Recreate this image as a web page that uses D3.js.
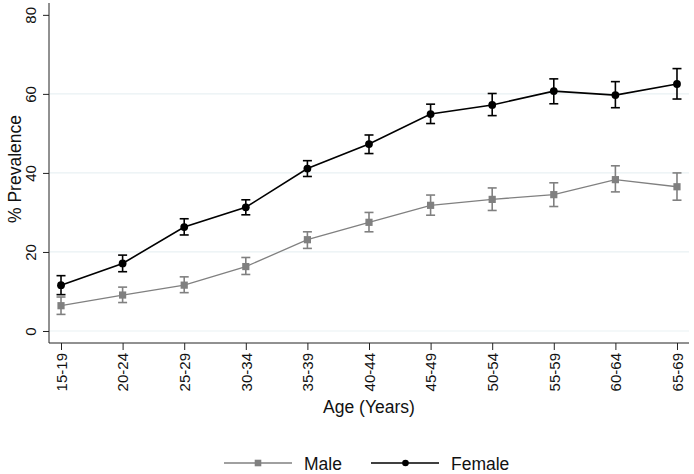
<!DOCTYPE html>
<html>
<head>
<meta charset="utf-8">
<script src="https://cdn.jsdelivr.net/npm/d3@7/dist/d3.min.js"></script>
<style>
  html, body { margin: 0; padding: 0; background: #fff; }
  svg { display: block; font-family: "Liberation Sans", Arial, Helvetica, sans-serif; }
</style>
</head>
<body>
<svg id="chart" width="694" height="474"></svg>
<script>
const ages = ["15-19","20-24","25-29","30-34","35-39","40-44","45-49","50-54","55-59","60-64","65-69"];
const femaleMean = [11.6, 17.1, 26.3, 31.3, 41.1, 47.3, 54.9, 57.2, 60.7, 59.7, 62.5];
const femaleLow  = [9.2, 15.0, 24.3, 29.4, 39.1, 44.9, 52.5, 54.5, 57.5, 56.5, 58.7];
const femaleHigh = [14.0, 19.2, 28.4, 33.2, 43.1, 49.6, 57.4, 60.1, 63.8, 63.1, 66.4];
const maleMean = [6.4, 9.1, 11.6, 16.3, 23.1, 27.5, 31.8, 33.3, 34.5, 38.3, 36.5];
const maleLow  = [4.2, 7.2, 9.7, 14.3, 20.9, 25.1, 29.3, 30.5, 31.5, 35.2, 33.1];
const maleHigh = [8.6, 11.1, 13.7, 18.6, 25.1, 30.0, 34.4, 36.2, 37.5, 41.8, 40.0];
const yTicks = [0, 20, 40, 60, 80];
const gridVals = [0, 20, 40, 60];
const seriesNames = ["Male", "Female"];

const svg = d3.select("#chart");
const mLeft = 49, mRight = 689, mTop = 3, mBottom = 343;

const x = d3.scalePoint().domain(ages).range([mLeft, mRight]).padding(0.195);
const y = d3.scaleLinear().domain([-3.04, 83.0]).range([mBottom, mTop]);

// grid
svg.append("g").selectAll("line").data(gridVals).join("line")
  .attr("x1", mLeft + 1).attr("x2", mRight)
  .attr("y1", d => y(d)).attr("y2", d => y(d))
  .attr("stroke", "#e9f1f3").attr("stroke-width", 1.2);

// y axis
const yAxis = svg.append("g").attr("transform", `translate(${mLeft},0)`)
  .call(d3.axisLeft(y).tickValues(yTicks).tickSize(6).tickSizeOuter(0).tickFormat(d3.format("d")));
yAxis.select(".domain").remove();
yAxis.selectAll(".tick line").attr("stroke", "#222");
yAxis.selectAll(".tick text").remove();
yAxis.selectAll(".tick").append("text")
  .attr("transform", "rotate(-90)")
  .attr("x", 0).attr("y", -13)
  .attr("text-anchor", "middle")
  .attr("fill", "#111")
  .attr("font-size", 15)
  .text(d => d);
svg.append("line").attr("x1", mLeft).attr("x2", mLeft).attr("y1", mTop).attr("y2", mBottom)
  .attr("stroke", "#222").attr("stroke-width", 1);

// x axis
const xAxis = svg.append("g").attr("transform", `translate(0,${mBottom})`)
  .call(d3.axisBottom(x).tickSize(7).tickSizeOuter(0));
xAxis.select(".domain").remove();
xAxis.selectAll(".tick line").attr("stroke", "#222");
xAxis.selectAll(".tick text")
  .attr("transform", "rotate(-90)")
  .attr("x", -10).attr("y", 0).attr("dy", "0.35em")
  .attr("text-anchor", "end")
  .attr("fill", "#111")
  .attr("font-size", 15);
svg.append("line").attr("x1", mLeft).attr("x2", mRight).attr("y1", mBottom).attr("y2", mBottom)
  .attr("stroke", "#222").attr("stroke-width", 1);

// titles
svg.append("text").attr("x", (mLeft + mRight) / 2).attr("y", 413)
  .attr("text-anchor", "middle").attr("font-size", 17.5).attr("fill", "#111")
  .text("Age (Years)");
svg.append("text").attr("transform", `translate(21,169) rotate(-90)`)
  .attr("text-anchor", "middle").attr("font-size", 17.5).attr("fill", "#111")
  .text("% Prevalence");

function drawSeries(mean, low, high, color, width, shape) {
  const g = svg.append("g");
  const line = d3.line().x((d, i) => x(ages[i])).y(d => y(d));
  g.append("path").datum(mean).attr("d", line)
    .attr("fill", "none").attr("stroke", color).attr("stroke-width", width);
  const eb = g.append("g").selectAll("g").data(ages).join("g");
  eb.append("line").attr("x1", d => x(d)).attr("x2", d => x(d))
    .attr("y1", (d, i) => y(low[i])).attr("y2", (d, i) => y(high[i]))
    .attr("stroke", color).attr("stroke-width", 1.6);
  eb.append("line").attr("x1", d => x(d) - 4.5).attr("x2", d => x(d) + 4.5)
    .attr("y1", (d, i) => y(low[i])).attr("y2", (d, i) => y(low[i]))
    .attr("stroke", color).attr("stroke-width", 1.6);
  eb.append("line").attr("x1", d => x(d) - 4.5).attr("x2", d => x(d) + 4.5)
    .attr("y1", (d, i) => y(high[i])).attr("y2", (d, i) => y(high[i]))
    .attr("stroke", color).attr("stroke-width", 1.6);
  if (shape === "square") {
    g.append("g").selectAll("rect").data(mean).join("rect")
      .attr("x", (d, i) => x(ages[i]) - 3.6).attr("y", d => y(d) - 3.6)
      .attr("width", 7.2).attr("height", 7.2).attr("fill", color);
  } else {
    g.append("g").selectAll("circle").data(mean).join("circle")
      .attr("cx", (d, i) => x(ages[i])).attr("cy", d => y(d))
      .attr("r", 3.9).attr("fill", color);
  }
}

const maleColor = "#808080", femaleColor = "#000000";
drawSeries(maleMean, maleLow, maleHigh, maleColor, 1.3, "square");
drawSeries(femaleMean, femaleLow, femaleHigh, femaleColor, 1.6, "circle");

// legend
const leg = svg.append("g");
const ly = 463;
leg.append("line").attr("x1", 224).attr("x2", 292).attr("y1", ly).attr("y2", ly)
  .attr("stroke", maleColor).attr("stroke-width", 1.3);
leg.append("rect").attr("x", 258 - 3.3).attr("y", ly - 3.3).attr("width", 6.6).attr("height", 6.6).attr("fill", maleColor);
leg.append("text").attr("x", 304).attr("y", ly + 7).attr("font-size", 17.5).attr("fill", "#111").text(seriesNames[0]);
leg.append("line").attr("x1", 371).attr("x2", 439).attr("y1", ly).attr("y2", ly)
  .attr("stroke", femaleColor).attr("stroke-width", 1.6);
leg.append("circle").attr("cx", 405.5).attr("cy", ly).attr("r", 3.3).attr("fill", femaleColor);
leg.append("text").attr("x", 451).attr("y", ly + 7).attr("font-size", 17.5).attr("fill", "#111").text(seriesNames[1]);
</script>
</body>
</html>
